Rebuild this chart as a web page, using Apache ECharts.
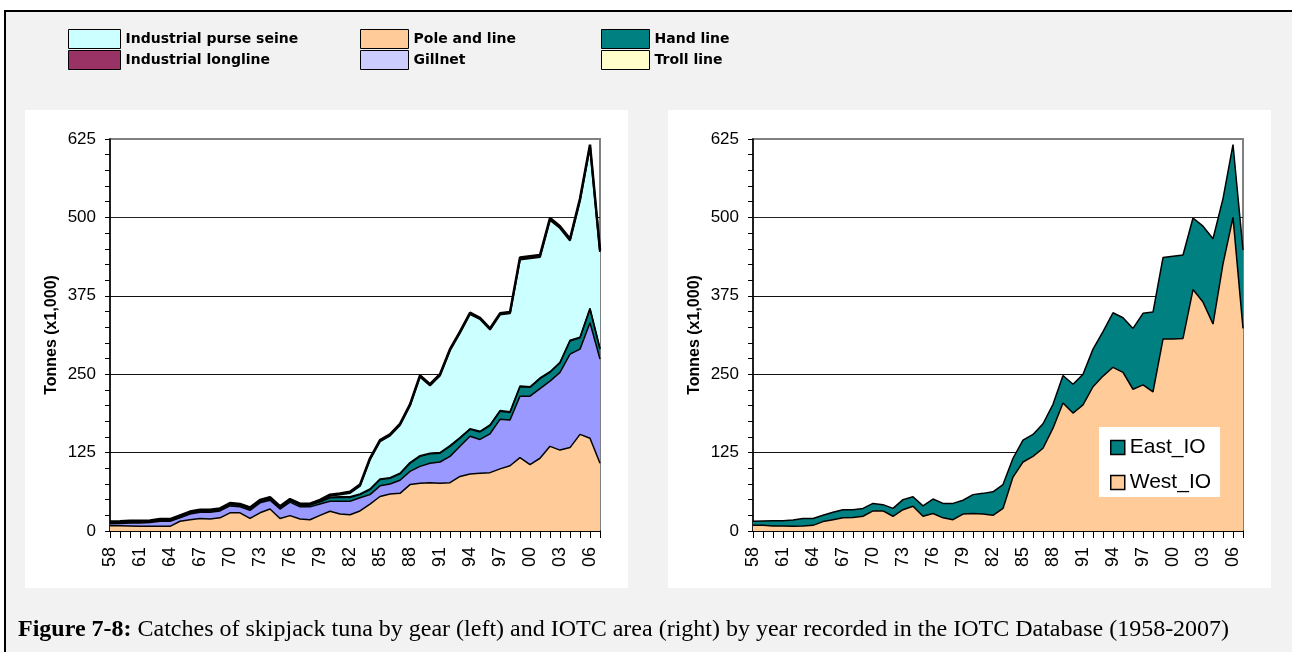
<!DOCTYPE html>
<html><head><meta charset="utf-8">
<script src="https://cdn.jsdelivr.net/npm/echarts@6/dist/echarts.min.js"></script>
<style>html,body{margin:0;padding:0;background:#fff}#c{width:1292px;height:652px}</style>
</head><body><div id="c"></div>
<script>
// Years 1958-2007 (two-digit labels)
const years = ['58','59','60','61','62','63','64','65','66','67','68','69','70','71','72','73','74','75','76','77','78','79','80','81','82','83','84','85','86','87','88','89','90','91','92','93','94','95','96','97','98','99','00','01','02','03','04','05','06','07'];
const yTickValues = [0, 125, 250, 375, 500, 625];

// Left chart: catches by gear (thousand tonnes)
const poleLine = [8.5,8.5,8,7.5,7.5,7.5,7.5,15.5,18,20, 19,21,29,29,20,29,35,20,24.5,19, 18,25,31.5,27,26,32,43,55,59,60, 74,76,77,76,77,87,91,92,93,99, 104,117,106,116,135,129,133,154,148,108];
const gillnet = [3.2,3.5,4.8,5.3,5.9,8,8,5.5,9,10, 11,11,11,9.5,13,16,14,15,21.5,19.5, 20.5,18,16,20.5,21.5,21,15,17,16,21, 21,27,31,34,42,48,60,54,62,79, 73,98,109,111,104,124,149,136,184,166];
const handLine = [1.5,1.5,1.5,1.5,1.5,1.5,1.5,2,2,2, 2,2,2.5,2.5,2.5,2.5,2.5,2.5,3,3, 3,3.5,5.5,6,6,5,8,10,9,10, 13,16,15,14,16,13,11,12,13,13, 12,15,14,16,14,15,21,18,22,16];
const trollLine = [0.5,0.5,0.5,0.5,0.5,0.5,0.5,0.5,0.5,0.5, 0.5,0.5,0.5,0.5,0.5,0.5,0.5,0.5,0.5,0.5, 0.5,0.5,1,1,1,1,1,1,1,1, 1,1,1,1,1,1,1,1,1,1, 1,1,1,1,1,1,1,1,1,1];
const pursSeine = [0,0,0,0,0,0,0,0,0,0, 0,0,0,0,0,0,0.5,0,0,0, 0,1,2,3.5,6,13,47,60,67,77, 91,126,108,123,152,167,183,179,152,153, 157,202,205,193,242,214,159,218,258,154];
const longline = [1.5,1.5,1.5,1.5,1.5,1.5,1.5,1.5,1.5,1.5, 1.5,1.5,1.5,1.5,1.5,1.5,1.5,1.5,1.5,1.5, 1.5,1.5,2,2,2,2,2,2,2,2, 2,2,2,2,2,2,2,2,2,2, 2,3,3,3,3,3,3,3,3,3];

// Right chart: catches by IOTC area (thousand tonnes)
const westIO = [9,9,8,8,7.5,8,9,15,18,21, 21.4,23.5,32,32,23.5,34,39.5,23.5,28,21, 18,27,28,27,25,36,86,110,119,132, 164,204,188,201,230,247,261,253,226,233, 222,306,306,307,385,365,330,426,500,323];
const eastIO = [6.5,7,8.5,8.5,10,12,11,10,12,13, 12.6,12.5,12,10,12.5,16,15,16.5,23,23, 26,22,30,33,37.5,38,30,35,35,39, 38,44,46,49,60,71,87,87,97,114, 127,130,132,133,114,121,136,104,116,125];

const SANS = "'Liberation Sans', Arial, sans-serif";
const SERIF = "'Liberation Serif', 'Times New Roman', serif";

function yAx(gi){ return {
  type:'value', gridIndex:gi, min:yTickValues[0], max:yTickValues[yTickValues.length-1], interval:125,
  name:'Tonnes (x1,000)', nameLocation:'middle', nameGap:50, nameRotate:90,
  nameTextStyle:{fontFamily:SANS, fontWeight:'bold', fontSize:16, color:'#000'},
  axisLine:{show:true, lineStyle:{color:'#000', width:1.5}},
  axisTick:{show:true, length:5, lineStyle:{color:'#000', width:1}},
  minorTick:{show:true, splitNumber:5, length:5, lineStyle:{color:'#000', width:1}},
  axisLabel:{fontFamily:SANS, fontSize:17, color:'#000', margin:14},
  splitLine:{show:true, lineStyle:{color:['#111','#111','#111','#111','#222','#808080'], width:1}}
};}
function xAx(gi){ return {
  type:'category', gridIndex:gi, data:years, boundaryGap:false,
  axisLine:{show:true, lineStyle:{color:'#000', width:1.5}},
  axisTick:{show:true, interval:0, length:7, lineStyle:{color:'#000', width:1}},
  axisLabel:{interval:2, rotate:90, fontFamily:SANS, fontSize:18, color:'#000', margin:16},
  splitLine:{show:false}
};}
function area(name, data, color, stack, xi, lw){ return {
  name:name, type:'line', data:data, stack:stack, xAxisIndex:xi, yAxisIndex:xi,
  showSymbol:false, symbol:'none',
  lineStyle:{color:'#000', width:lw||1.5},
  areaStyle:{color:color, opacity:1},
  itemStyle:{color:color},
  emphasis:{disabled:true}, animation:false
};}

const legBase = {orient:'vertical', icon:'rect', itemGap:1, itemHeight:19, selectedMode:false, padding:0,
  textStyle:{fontFamily:"'DejaVu Sans', sans-serif", fontWeight:'bold', fontSize:14, color:'#000'},
  itemStyle:{borderColor:'#000', borderWidth:1}};

const option = {
  backgroundColor:'#fff',
  animation:false,
  graphic:[
    {type:'rect', z:-100, silent:true, shape:{x:4,y:10,width:1288,height:642}, style:{fill:'#f2f2f2'}},
    {type:'rect', z:-99, silent:true, shape:{x:4,y:10,width:1288,height:2}, style:{fill:'#000'}},
    {type:'rect', z:-99, silent:true, shape:{x:4,y:10,width:2,height:642}, style:{fill:'#000'}},
    {type:'rect', z:-99, silent:true, shape:{x:25,y:110,width:603,height:478}, style:{fill:'#fff'}},
    {type:'rect', z:-99, silent:true, shape:{x:668,y:110,width:603,height:478}, style:{fill:'#fff'}}
  ],
  title:{left:18, top:618, padding:0,
    text:'{b|Figure 7-8:} Catches of skipjack tuna by gear (left) and IOTC area (right) by year recorded in the IOTC Database (1958-2007)',
    textStyle:{fontFamily:SERIF, fontSize:24, fontWeight:'normal', color:'#000',
      rich:{b:{fontFamily:SERIF, fontSize:24, fontWeight:'bold', color:'#000'}}}},
  legend:[
    Object.assign({}, legBase, {left:68, top:29, itemWidth:52, data:['Industrial purse seine','Industrial longline']}),
    Object.assign({}, legBase, {left:360, top:29, itemWidth:48, data:['Pole and line', {name:'Gillnet', itemStyle:{color:'#CCCCFF'}}]}),
    Object.assign({}, legBase, {left:601, top:29, itemWidth:48, data:['Hand line','Troll line']}),
    {orient:'vertical', left:1099, top:427, icon:'rect', itemWidth:14, itemHeight:14, itemGap:14,
     padding:[10,9,4,11], backgroundColor:'#fff', selectedMode:false,
     textStyle:{fontFamily:SANS, fontSize:21, color:'#000'},
     itemStyle:{borderColor:'#000', borderWidth:1.5}, data:['East_IO','West_IO']}
  ],
  grid:[
    {left:110, top:139, width:490, height:392, show:true, borderColor:'#808080', borderWidth:2, backgroundColor:'transparent'},
    {left:753, top:139, width:490, height:392, show:true, borderColor:'#808080', borderWidth:2, backgroundColor:'transparent'}
  ],
  xAxis:[xAx(0), xAx(1)],
  yAxis:[yAx(0), yAx(1)],
  series:[
    area('Pole and line', poleLine, '#FFCC99', 'gear', 0),
    area('Gillnet', gillnet, '#9999FF', 'gear', 0),
    area('Hand line', handLine, '#008080', 'gear', 0),
    area('Troll line', trollLine, '#FFFFCC', 'gear', 0),
    area('Industrial purse seine', pursSeine, '#CCFFFF', 'gear', 0, 2),
    area('Industrial longline', longline, '#993366', 'gear', 0, 2.5),
    area('West_IO', westIO, '#FFCC99', 'area', 1),
    area('East_IO', eastIO, '#008080', 'area', 1)
  ]
};
const chart = echarts.init(document.getElementById('c'), null, {renderer:'canvas'});
chart.setOption(option);
</script>
</body></html>
